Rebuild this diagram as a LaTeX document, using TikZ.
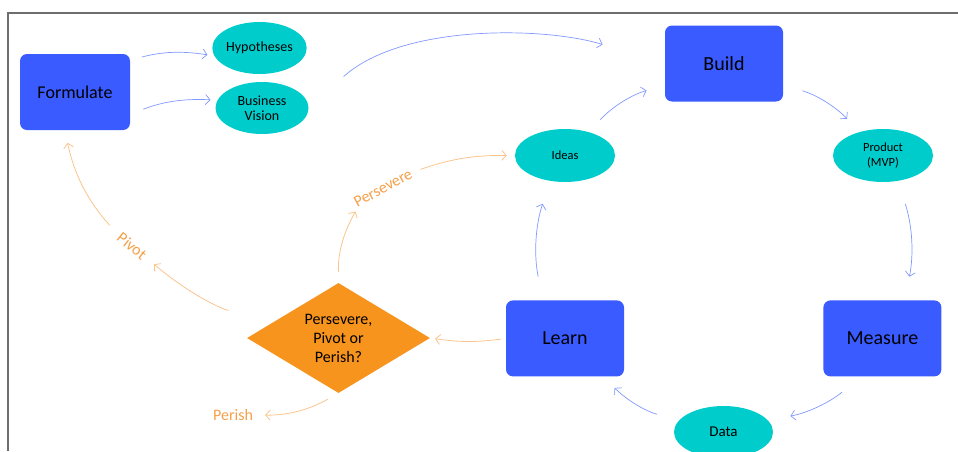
\documentclass[tikz,border=0pt]{standalone}
\usepackage{xcolor}
\usepackage{fontspec}
\setmainfont{Carlito}
\usepackage{tikz}
\usetikzlibrary{arrows.meta,positioning,shapes.geometric}

\definecolor{stepblue}{HTML}{3A5BFF}
\definecolor{ovalteal}{HTML}{00CCCC}
\definecolor{pivotorange}{HTML}{F7941D}
\definecolor{flowblue}{HTML}{8098FF}
\definecolor{loopline}{HTML}{F9C48E}
\definecolor{looptext}{HTML}{F5A04A}
\definecolor{framegray}{HTML}{6E6E6E}

\begin{document}
\begin{tikzpicture}[
    x=1pt, y=1pt,
    box/.style={fill=stepblue, rounded corners=7pt, align=center, minimum width=118pt, minimum height=76pt, font=\fontsize{20}{24}\selectfont},
    oval/.style={ellipse, fill=ovalteal, align=center, inner sep=0pt, minimum width=100pt, minimum height=53pt, font=\fontsize{14}{15}\selectfont},
    decision/.style={diamond, fill=pivotorange, align=center, aspect=1.66, inner sep=0pt, minimum width=183pt, minimum height=110pt, font=\fontsize{16}{19}\selectfont},
    pathlabel/.style={text=looptext, inner sep=0pt, font=\fontsize{16}{19}\selectfont},
    flow/.style={-{Straight Barb[length=4.5pt,width=10pt]}, flowblue, line width=0.7pt},
    pflow/.style={-{Straight Barb[length=4.5pt,width=10pt]}, loopline, line width=0.8pt}
]
\useasboundingbox (0,0) rectangle (958,-451);
\draw[framegray, line width=1.5pt] (8,-451) -- (8,-13) -- (958,-13);

\node[box, minimum width=110pt, font=\fontsize{18}{22}\selectfont] (formulate) at (75,-92) {Formulate};
\node[oval, minimum width=93pt, minimum height=52pt] (hyp) at (259.5,-48) {Hypotheses};
\node[oval, minimum width=93pt, minimum height=52pt] (vision) at (262,-108) {Business\\Vision};
\node[box] (build) at (724,-63.5) {Build};
\node[oval, font=\fontsize{12.5}{14}\selectfont] (ideas) at (565,-155.5) {Ideas};
\node[oval, font=\fontsize{12.5}{15.5}\selectfont] (product) at (883,-155.5) {Product\\(MVP)};
\node[box, below=118pt of ideas] (learn) {Learn};
\node[box, right=199pt of learn] (measure) {Measure};
\node[oval, minimum width=99pt, minimum height=52pt, font=\fontsize{15}{18}\selectfont] (data) at (723.5,-432) {Data};
\node[decision] (decide) at (338.5,-338) {Persevere,\\Pivot or\\Perish?};
\node[pathlabel, rotate=-39] (pivot) at (132,-246) {Pivot};
\node[pathlabel, rotate=28.5] (persevere) at (383,-188) {Persevere};
\node[pathlabel] (perish) at (233,-415) {Perish};

\draw[flow, shorten <=12pt, shorten >=7pt] (formulate.30) to[bend left=12] (hyp.190);
\draw[flow, shorten <=14pt, shorten >=7pt] (formulate.-22) to[bend left=12] (vision.170);
\draw[flow, shorten <=47pt, shorten >=65pt] (vision.east) to[out=42, in=163, looseness=0.9] (build.west);
\draw[flow, shorten <=17pt, shorten >=19pt] (ideas.45) to[bend left=15] (build.200);
\draw[flow, shorten <=20pt, shorten >=18pt] (build.-20) to[bend left=15] (product.135);
\draw[flow, shorten <=24pt, shorten >=24pt] (product.-60) to[bend left=15] (measure.60);
\draw[flow, shorten <=24pt, shorten >=23pt] (measure.-120) to[bend left=15] (data.15);
\draw[flow, shorten <=23pt, shorten >=16pt] (data.165) to[bend left=15] (learn.-45);
\draw[flow, shorten <=24pt, shorten >=24pt] (learn.120) to[bend left=15] (ideas.-120);

\draw[pflow, shorten <=5pt, shorten >=5pt] (learn.west) to[bend left=8] (decide.east);
\draw[pflow, shorten <=50pt, shorten >=12pt] (decide.163) to[bend left=15] (pivot.east);
\draw[pflow, shorten <=14pt, shorten >=13pt] (pivot.west) to[bend left=15] (formulate.-105);
\draw[pflow, shorten <=11pt, shorten >=4pt] (decide.north) to[bend left=15] (persevere.south west);
\draw[pflow, shorten <=10pt, shorten >=8pt] (persevere.east) to[bend left=10] (ideas.west);
\draw[pflow, shorten <=12pt, shorten >=12pt] (decide.south) to[bend left=15] (perish.east);
\end{tikzpicture}
\end{document}
